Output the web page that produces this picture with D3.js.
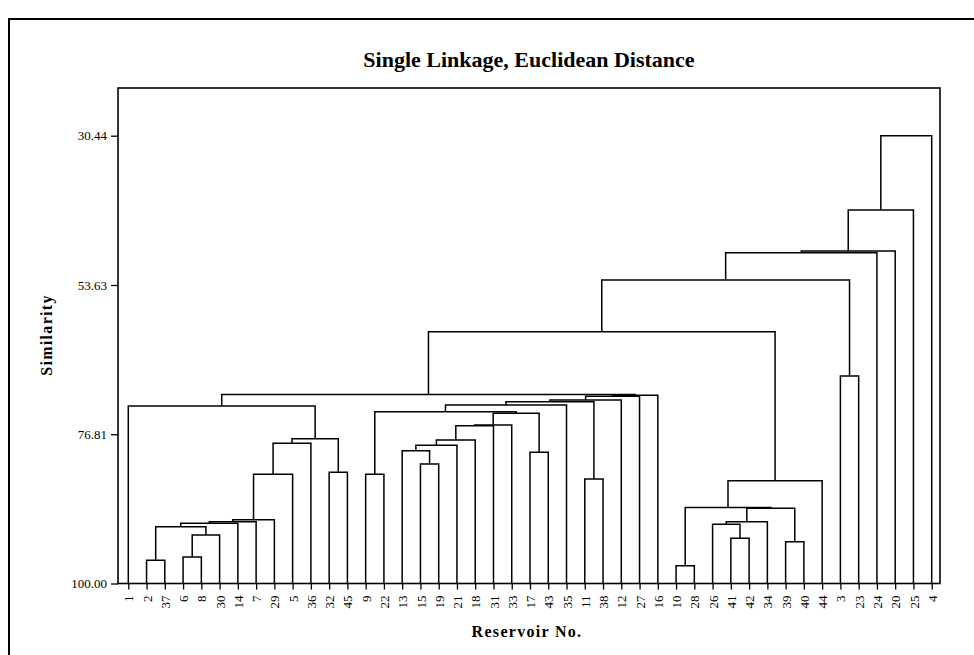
<!DOCTYPE html>
<html lang="en">
<head>
	<meta charset="UTF-8">
	<title>Single Linkage dendrogram</title>
	<style>
		body{margin:0;background:#fff;}
		svg{display:block;font-family:"Liberation Serif","Times New Roman",serif;}
		.link{fill:none;stroke:#000;stroke-width:1.5px;}
		.frame{fill:none;stroke:#000;stroke-width:1.6px;}
		.tick line{stroke:#000;stroke-width:1.3px;}
		.tick text{fill:#000;font-size:13px;font-family:"Liberation Serif","Times New Roman",serif;}
		.title{font-weight:bold;font-size:22px;}
		.axis-label{font-weight:bold;font-size:16px;letter-spacing:1.3px;}
	</style>
</head>
<body>
<script src="https://d3js.org/d3.v7.min.js"></script>
<script>
	// leaf order along the x axis (reservoir numbers)
	var leaves = ['1','2','37','6','8','30','14','7','29','5','36','32','45','9','22',
		'13','15','19','21','18','31','33','17','43','35','11','38','12','27','16',
		'10','28','26','41','42','34','39','40','44','3','23','24','20','25','4'];

	var yTicks = [30.44, 53.63, 76.81, 100.00];

	// linkage table: [left, right, similarity]; numbers are reservoirs, 'mN' is merge N
	var merges = [
		[2, 37, 96.39],       // m0
		[6, 8, 95.88],        // m1
		['m1', 30, 92.46],    // m2
		['m0', 'm2', 91.17],  // m3
		['m3', 14, 90.65],    // m4
		['m4', 7, 90.40],     // m5
		['m5', 29, 90.09],    // m6
		['m6', 5, 83.03],     // m7
		['m7', 36, 78.22],    // m8
		[32, 45, 82.72],      // m9
		['m8', 'm9', 77.50],  // m10
		[1, 'm10', 72.42],    // m11
		[9, 22, 83.03],       // m12
		[15, 19, 81.43],      // m13
		[13, 'm13', 79.37],   // m14
		['m14', 21, 78.53],   // m15
		['m15', 18, 77.71],   // m16
		['m16', 31, 75.49],   // m17
		['m17', 33, 75.38],   // m18
		[17, 43, 79.62],      // m19
		['m18', 'm19', 73.56],// m20
		['m12', 'm20', 73.31],// m21
		['m21', 35, 72.27],   // m22
		[11, 38, 83.76],      // m23
		['m22', 'm23', 71.76],// m24
		['m24', 12, 71.49],   // m25
		['m25', 27, 70.90],   // m26
		['m26', 16, 70.76],   // m27
		['m11', 'm27', 70.64],// m28
		[10, 28, 97.23],      // m29
		[41, 42, 92.97],      // m30
		[26, 'm30', 90.80],   // m31
		['m31', 34, 90.40],   // m32
		[39, 40, 93.50],      // m33
		['m32', 'm33', 88.31],// m34
		['m29', 'm34', 88.19],// m35
		['m35', 44, 84.03],   // m36
		['m28', 'm36', 60.90],// m37
		[3, 23, 67.77],       // m38
		['m37', 'm38', 52.85],// m39
		['m39', 24, 48.61],   // m40
		['m40', 20, 48.35],   // m41
		['m41', 25, 41.98],   // m42
		['m42', 4, 30.44]     // m43
	];

	var width = 974, height = 655;
	var svg = d3.select('body').append('svg')
		.attr('width', width)
		.attr('height', height);

	// outer border, runs off the right and bottom edges
	svg.append('rect').attr('class','frame')
		.attr('x', 9).attr('y', 19)
		.attr('width', 990).attr('height', 660)
		.style('stroke-width', '2px');

	var plot = {left:118, top:88, right:940, bottom:583.5};

	var x = d3.scalePoint().domain(leaves).range([128.3, 931.7]);
	var y = d3.scaleLinear().domain([30.44, 100]).range([135.7, plot.bottom]);

	// node positions
	var nodes = {};
	leaves.forEach(function(l){ nodes[l] = {x: x(l), y: y(100)}; });
	function get(ref){ return nodes[String(ref)]; }

	var links = svg.append('g');
	merges.forEach(function(m, i){
		var a = get(m[0]), b = get(m[1]), h = y(m[2]);
		var p = d3.path();
		p.moveTo(a.x, a.y);
		p.lineTo(a.x, h);
		p.lineTo(b.x, h);
		p.lineTo(b.x, b.y);
		links.append('path').attr('class','link').attr('d', p.toString());
		nodes['m' + i] = {x: (a.x + b.x) / 2, y: h};
	});

	// plot frame
	svg.append('rect').attr('class','frame')
		.attr('x', plot.left).attr('y', plot.top)
		.attr('width', plot.right - plot.left)
		.attr('height', plot.bottom - plot.top);

	var yAxis = svg.append('g')
		.attr('transform', 'translate(' + plot.left + ',0)')
		.call(d3.axisLeft(y).tickValues(yTicks).tickFormat(d3.format('.2f')).tickSize(7).tickPadding(4));
	yAxis.select('.domain').remove();

	var xAxis = svg.append('g')
		.attr('transform', 'translate(0,' + plot.bottom + ')')
		.call(d3.axisBottom(x).tickSize(6));
	xAxis.select('.domain').remove();
	xAxis.selectAll('text')
		.attr('transform', 'rotate(-90)')
		.attr('x', -12)
		.attr('y', 0)
		.attr('dy', '0.35em')
		.style('text-anchor', 'end');

	svg.append('text').attr('class','title')
		.attr('x', 529).attr('y', 67)
		.attr('text-anchor','middle')
		.text('Single Linkage, Euclidean Distance');

	svg.append('text').attr('class','axis-label')
		.attr('x', 527).attr('y', 637)
		.attr('text-anchor','middle')
		.text('Reservoir No.');

	svg.append('text').attr('class','axis-label')
		.attr('transform', 'translate(52,335) rotate(-90)')
		.attr('text-anchor','middle')
		.text('Similarity');
</script>
</body>
</html>
